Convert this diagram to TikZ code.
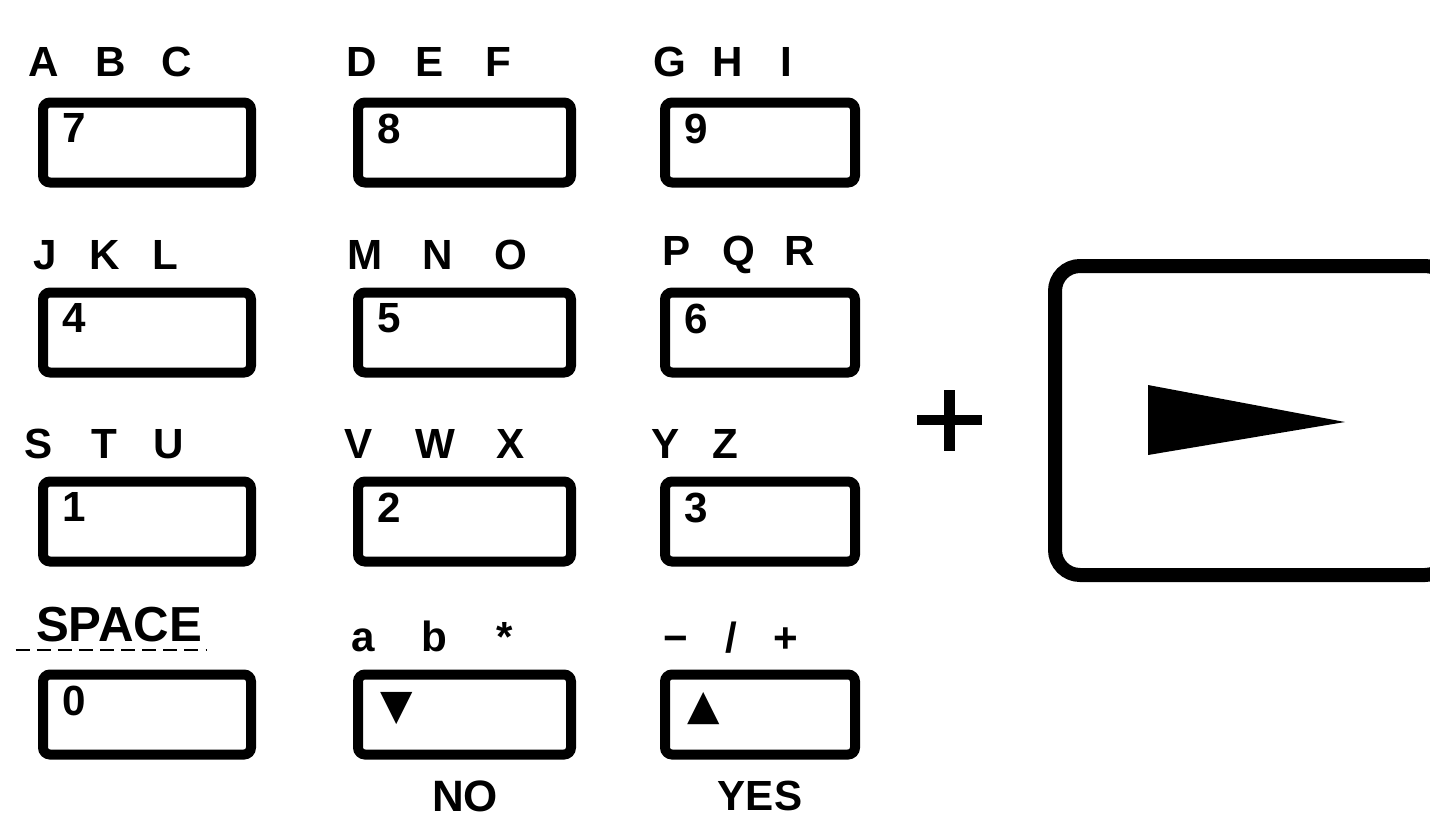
\documentclass[tikz,border=0pt]{standalone}
\usepackage{fontspec}
\setmainfont{Liberation Sans}
\newfontfamily\arrowfont{DejaVu Sans}
\newcommand{\keyletters}[4]{\makebox[#1]{#2}\makebox[#1]{#3}\makebox[#1]{#4}}

\begin{document}
\begin{tikzpicture}[
    keybox/.style={draw,line width=0.2cm,rounded corners=4pt,minimum height=1.6cm,inner sep=0pt},
    lbl/.style={inner sep=0pt,font=\bfseries\fontsize{24}{28}\selectfont},
    digit/.style={anchor=north west,inner sep=0pt,font=\bfseries\fontsize{24}{28}\selectfont}]
  \useasboundingbox (0,0) rectangle (28.6,-16.42);
  % letters above the keys
  \node[lbl] (abc) at (2.21,-1.24) {\keyletters{1.33cm}{A}{B}{C}};
  \node[lbl] (def) at (8.6,-1.24) {\keyletters{1.36cm}{D}{E}{F}};
  \node[lbl] (ghi) at (14.56,-1.24) {\keyletters{1.16cm}{G}{H}{I}};
  \node[lbl] (jkl) at (2.1,-5.1) {\keyletters{1.2cm}{J}{K}{L}};
  \node[lbl] (mno) at (8.76,-5.1) {\keyletters{1.46cm}{M}{N}{O}};
  \node[lbl] (pqr) at (14.77,-5.1) {\keyletters{1.23cm}{P}{Q}{R}};
  \node[lbl] (stu) at (2.08,-8.88) {\keyletters{1.3cm}{S}{T}{U}};
  \node[lbl] (vwx) at (8.7,-8.88) {\keyletters{1.52cm}{V}{W}{X}};
  \node[lbl] (yz) at (13.91,-8.88) {\makebox[1.18cm]{Y}\makebox[1.18cm]{Z}};
  \node[lbl,font=\bfseries\fontsize{28}{32}\selectfont] (space) at (2.38,-12.5) {SPACE};
  \node[lbl] (lower) at (8.68,-12.72) {\keyletters{1.42cm}{a}{b}{*}};
  \node[lbl] (sign) at (14.62,-12.76) {\keyletters{1.1cm}{−}{/}{+}};
  \draw[line width=0.04cm,dash pattern=on 8pt off 4pt]
    ([xshift=-0.4cm,yshift=-0.14cm]space.south west) -- ([xshift=0.1cm,yshift=-0.14cm]space.south east);
  % keys
  \node[keybox,minimum width=4.16cm] (k7) at (2.94,-2.85) {};
  \node[keybox,minimum width=4.26cm] (k8) at (9.29,-2.85) {};
  \node[keybox,minimum width=3.8cm] (k9) at (15.2,-2.85) {};
  \node[keybox,minimum width=4.16cm] (k4) at (2.94,-6.65) {};
  \node[keybox,minimum width=4.26cm] (k5) at (9.29,-6.65) {};
  \node[keybox,minimum width=3.8cm] (k6) at (15.2,-6.65) {};
  \node[keybox,minimum width=4.16cm] (k1) at (2.94,-10.43) {};
  \node[keybox,minimum width=4.26cm] (k2) at (9.29,-10.43) {};
  \node[keybox,minimum width=3.8cm] (k3) at (15.2,-10.43) {};
  \node[keybox,minimum width=4.16cm] (k0) at (2.94,-14.29) {};
  \node[keybox,minimum width=4.26cm] (kno) at (9.29,-14.29) {};
  \node[keybox,minimum width=3.8cm] (kyes) at (15.2,-14.29) {};
  % digits
  \node[digit] (d7) at ([xshift=0.48cm,yshift=-0.32cm]k7.north west) {7};
  \node[digit] (d8) at ([xshift=0.48cm,yshift=-0.32cm]k8.north west) {8};
  \node[digit] (d9) at ([xshift=0.48cm,yshift=-0.32cm]k9.north west) {9};
  \node[digit] (d4) at ([xshift=0.48cm,yshift=-0.32cm]k4.north west) {4};
  \node[digit] (d5) at ([xshift=0.48cm,yshift=-0.32cm]k5.north west) {5};
  \node[digit] (d6) at ([xshift=0.48cm,yshift=-0.32cm]k6.north west) {6};
  \node[digit] (d1) at ([xshift=0.48cm,yshift=-0.32cm]k1.north west) {1};
  \node[digit] (d2) at ([xshift=0.48cm,yshift=-0.32cm]k2.north west) {2};
  \node[digit] (d3) at ([xshift=0.48cm,yshift=-0.32cm]k3.north west) {3};
  \node[digit] (d0) at ([xshift=0.48cm,yshift=-0.32cm]k0.north west) {0};
  \node[digit,font=\arrowfont\fontsize{24}{28}\selectfont] (dno) at ([xshift=0.55cm,yshift=-0.45cm]kno.north west) {▼};
  \node[digit,font=\arrowfont\fontsize{24}{28}\selectfont] (dyes) at ([xshift=0.55cm,yshift=-0.45cm]kyes.north west) {▲};
  \node[lbl,font=\bfseries\fontsize{25}{30}\selectfont] (no) at (9.3,-15.92) {NO};
  \node[lbl,font=\bfseries\fontsize{24}{30}\selectfont] (yes) at (15.2,-15.92) {YES};
  % plus and the big key
  \draw[line width=0.2cm] (18.34,-8.4) -- (19.64,-8.4);
  \draw[line width=0.22cm] (18.98,-7.8) -- (18.98,-9.02);
  \node[draw,line width=0.28cm,rounded corners=0.5cm,minimum width=7.9cm,minimum height=6.18cm] (play) at (25.05,-8.41) {};
  \fill (22.96,-7.7) -- (22.96,-9.1) -- (26.9,-8.44) -- cycle;
\end{tikzpicture}
\end{document}
